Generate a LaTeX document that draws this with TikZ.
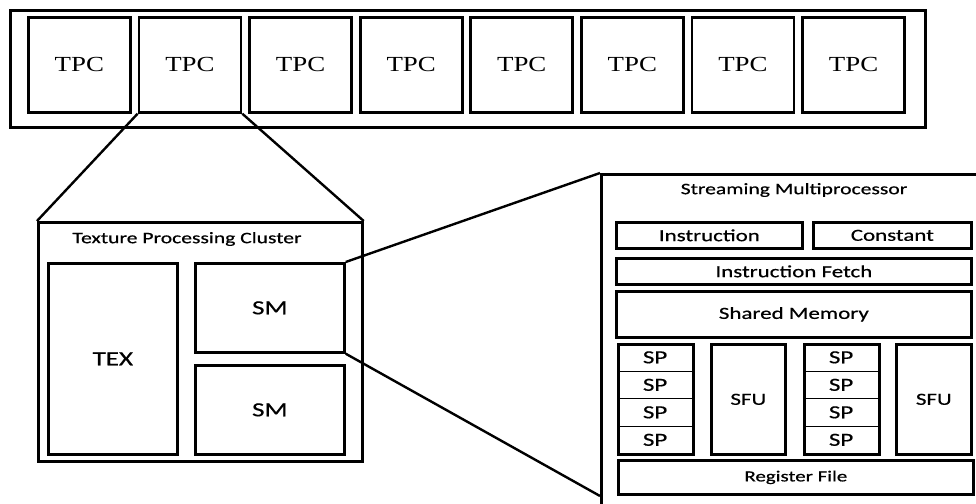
\documentclass[tikz,border=0pt]{standalone}
\usepackage{fontspec}
\setmainfont{Carlito}
\newfontfamily\tpcfont[FakeStretch=1.25]{Liberation Serif}
\newfontfamily\blkfont[FakeStretch=1.35,FakeBold=0.6]{Carlito}
\usetikzlibrary{positioning,calc}
\tikzset{blk/.style={draw,line width=2.7pt,inner sep=0pt,anchor=north west},
  cell/.style={draw,line width=1.2pt,inner sep=0pt,anchor=north west,minimum width=75,minimum height=27.5,font=\blkfont\fontsize{18.5}{20}\selectfont},
  lbl/.style={font=\blkfont\fontsize{16}{18}\selectfont},
  boxlbl/.style={font=\blkfont\fontsize{17}{19}\selectfont},
  big/.style={font=\blkfont\fontsize{20}{24}\selectfont},
  conn/.style={line width=2.4pt}}

\begin{document}
\begin{tikzpicture}[x=1pt,y=-1pt]
\useasboundingbox (0,0) rectangle (976,503);
\clip (0,0) rectangle (976,503);
% the row of clusters
\node[blk,minimum width=915,minimum height=117] (gpu) at (9,9) {};
\foreach \i in {1,...,8}
  \node[blk,minimum width=102,minimum height=95,font=\tpcfont\fontsize{21.5}{24}\selectfont] (tpc\i) at ({27+110.6*(\i-1)},16) {TPC};
% one cluster
\node[blk,minimum width=324,minimum height=239] (tpcl) at (37,221) {};
\node[lbl] (tpctitle) at (187,239) {Texture Processing Cluster};
\node[blk,big,minimum width=129,minimum height=191] (tex) at (47,262) {TEX};
\node[blk,big,minimum width=149,minimum height=89] (sma) at (194,262) {SM};
\node[blk,big,minimum width=149,minimum height=89] (smb) at (194,364) {SM};
\draw[conn] (tpc2.south west) -- (tpcl.north west);
\draw[conn] (tpc2.south east) -- (tpcl.north east);
% one multiprocessor
\node[blk,minimum width=420,minimum height=345] (smd) at (600,173) {};
\node[lbl] (smtitle) at (794,190) {Streaming Multiprocessor};
\node[blk,boxlbl,minimum width=186,minimum height=26] (instr) at (615,221) {Instruction};
\node[blk,boxlbl,minimum width=158,minimum height=26] (const) at (812,221) {Constant};
\node[blk,boxlbl,minimum width=355,minimum height=26] (ifetch) at (615,257) {Instruction Fetch};
\node[blk,boxlbl,minimum width=355,minimum height=46] (shmem) at (615,290) {Shared Memory};
\foreach \c/\x in {1/617,2/803}{
  \foreach \r in {1,...,4}
    \node[cell] (sp\c\r) at (\x,{343+27.5*(\r-1)}) {SP};
  \node[blk,minimum width=75,minimum height=110] (spcol\c) at (\x,343) {};
}
\node[blk,minimum width=74,minimum height=110,font=\blkfont\fontsize{17}{20}\selectfont] (sfu1) at (710,343) {SFU};
\node[blk,minimum width=75,minimum height=110,font=\blkfont\fontsize{17}{20}\selectfont] (sfu2) at (895,343) {SFU};
\node[blk,minimum width=355,minimum height=34,font=\blkfont\fontsize{15.5}{18}\selectfont] (regf) at (617,459) {Register File};
\coordinate (smlow) at (600,496);
\draw[conn] (sma.north east) -- (smd.north west);
\draw[conn] (sma.south east) -- (smlow);
\end{tikzpicture}
\end{document}
